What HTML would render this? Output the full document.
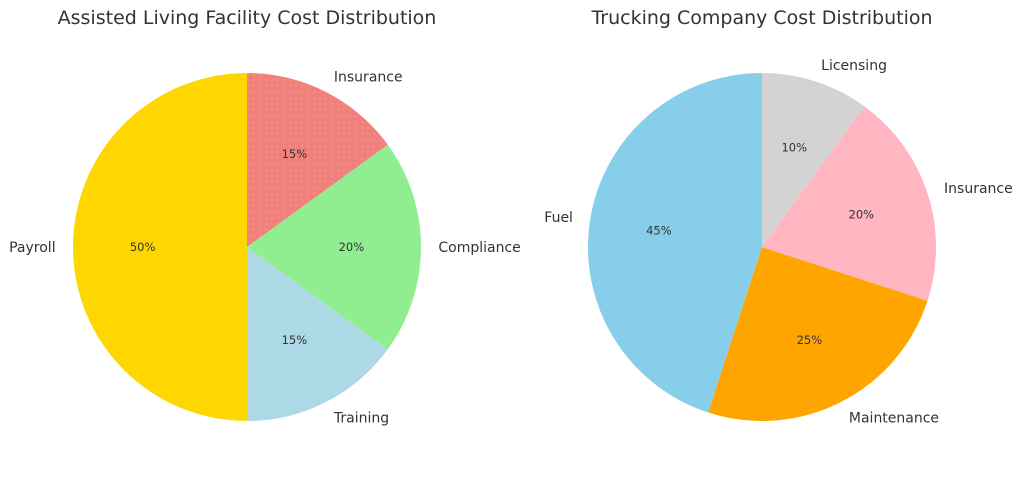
<!DOCTYPE html>
<html><head><meta charset="utf-8"><style>
body{margin:0;background:#fff;width:1024px;height:473px;overflow:hidden}
svg{font-family:"DejaVu Sans","Liberation Sans",sans-serif}
</style></head><body>
<svg id="c" width="1024" height="473">
<defs><pattern id="dots" width="6" height="6" patternUnits="userSpaceOnUse"><rect width="6" height="6" fill="#f08080"/><circle cx="2" cy="2" r="0.7" fill="#ffb347"/></pattern></defs>
<text x="247" y="24" text-anchor="middle" font-size="19" fill="#333">Assisted Living Facility Cost Distribution</text>
<text x="762" y="24" text-anchor="middle" font-size="19" fill="#333">Trucking Company Cost Distribution</text>
</svg>
<script>
const leftLabels=["Payroll","Training","Compliance","Insurance"];
const leftValues=[50,15,20,15];
const leftColors=["#ffd700","#add8e6","#90ee90","url(#dots)"];
const rightLabels=["Fuel","Maintenance","Insurance","Licensing"];
const rightValues=[45,25,20,10];
const rightColors=["#87ceeb","#ffa500","#ffb6c1","#d3d3d3"];
const svg=document.getElementById('c');
const NS="http://www.w3.org/2000/svg";
function pie(cx,cy,r,labels,values,colors,prefix){
  const total=values.reduce((a,b)=>a+b,0);
  let a=90;
  values.forEach((v,i)=>{
    const sweep=v/total*360, a2=a+sweep, rad=x=>x*Math.PI/180;
    const x1=cx+r*Math.cos(rad(a)),y1=cy-r*Math.sin(rad(a));
    const x2=cx+r*Math.cos(rad(a2)),y2=cy-r*Math.sin(rad(a2));
    const p=document.createElementNS(NS,'path');
    p.setAttribute('d',`M${cx},${cy}L${x1},${y1}A${r},${r} 0 ${sweep>180?1:0} 0 ${x2},${y2}Z`);
    p.setAttribute('fill',colors[i]);
    
    
    svg.appendChild(p);
    const m=rad(a+sweep/2),c=Math.cos(m),s=Math.sin(m);
    const t=document.createElementNS(NS,'text');
    t.setAttribute('x',cx+1.1*r*c);t.setAttribute('y',cy-1.1*r*s+5);
    t.setAttribute('text-anchor',c>0.01?'start':(c<-0.01?'end':'middle'));
    t.setAttribute('font-size','14');t.setAttribute('fill','#333');
    t.textContent=labels[i];
    
    
    svg.appendChild(t);
    const q=document.createElementNS(NS,'text');
    q.setAttribute('x',cx+0.6*r*c);q.setAttribute('y',cy-0.6*r*s+4);
    q.setAttribute('text-anchor','middle');q.setAttribute('font-size','11.5');q.setAttribute('fill','#333');
    q.textContent=Math.round(v/total*100)+'%';
    
    
    svg.appendChild(q);
    a=a2;
  });
}
pie(247,247,174,leftLabels,leftValues,leftColors,'left');
pie(762,247,174,rightLabels,rightValues,rightColors,'right');
</script>
</body></html>
